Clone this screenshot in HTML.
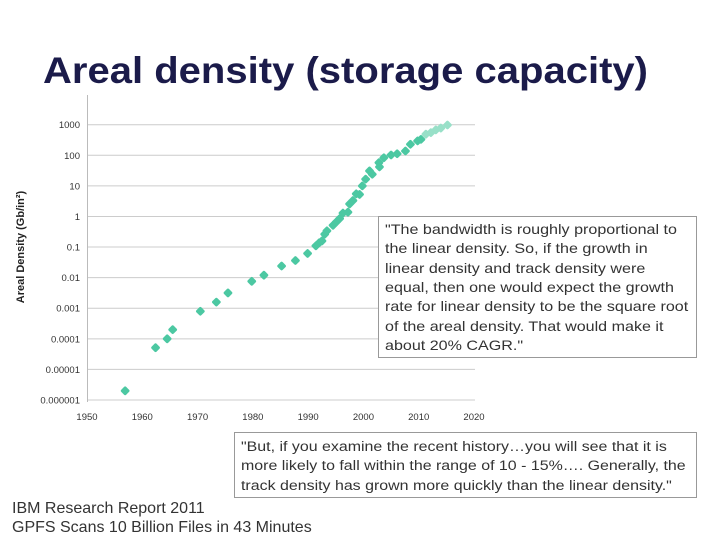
<!DOCTYPE html>
<html><head><meta charset="utf-8"><style>
html,body{margin:0;padding:0;background:#fff;}
svg{display:block;font-family:"Liberation Sans",Arial,sans-serif;}
</style></head><body>
<svg id="chart" width="720" height="540" viewBox="0 0 720 540">
<text x="43" y="83" font-size="37" font-weight="bold" fill="#1b1b4a" textLength="605" lengthAdjust="spacingAndGlyphs">Areal density (storage capacity)</text>
<g id="grid"></g>
<g id="axes"></g>
<g id="points"></g>
<text transform="translate(24,247) rotate(-90)" text-anchor="middle" font-size="11" font-weight="bold" fill="#222">Areal Density (Gb/in²)</text>
<g>
<rect x="378.5" y="216.5" width="318" height="141" fill="#fff" stroke="#999"/>
<text font-size="14" fill="#333" transform="translate(385,0) scale(1.15,1)">
<tspan x="0" y="234">"The bandwidth is roughly proportional to</tspan>
<tspan x="0" y="253">the linear density. So, if the growth in</tspan>
<tspan x="0" y="273">linear density and track density were</tspan>
<tspan x="0" y="292">equal, then one would expect the growth</tspan>
<tspan x="0" y="311">rate for linear density to be the square root</tspan>
<tspan x="0" y="331">of the areal density. That would make it</tspan>
<tspan x="0" y="350">about 20% CAGR."</tspan>
</text></g>
<g>
<rect x="234.5" y="432.5" width="462" height="65" fill="#fff" stroke="#999"/>
<text font-size="14" fill="#333" transform="translate(241,0) scale(1.14,1)">
<tspan x="0" y="451">"But, if you examine the recent history…you will see that it is</tspan>
<tspan x="0" y="470">more likely to fall within the range of 10 - 15%…. Generally, the</tspan>
<tspan x="0" y="490">track density has grown more quickly than the linear density."</tspan>
</text></g>
<text font-size="16" fill="#333">
<tspan x="12" y="513">IBM Research Report 2011</tspan>
<tspan x="12" y="532">GPFS Scans 10 Billion Files in 43 Minutes</tspan>
</text>
</svg>
<script>
const xTicks=[1950,1960,1970,1980,1990,2000,2010,2020];
const yTickLabels=["0.000001","0.00001","0.0001","0.001","0.01","0.1","1","10","100","1000"];
const years=[1956.9,1962.4,1964.5,1965.5,1970.5,1973.4,1975.5,1979.8,1982,1985.2,1987.7,1989.9,1991.4,1992,1992.5,1993,1993.4,1994.5,1995.1,1995.7,1996.3,1997.2,1997.5,1998.1,1998.7,1999.3,1999.8,2000.4,2001.1,2001.6,2002.8,2002.9,2003.7,2005,2006.1,2007.6,2008.5,2009.8,2010.4];
const logDensity=[-5.7,-4.29,-4.0,-3.7,-3.1,-2.8,-2.5,-2.12,-1.92,-1.62,-1.44,-1.21,-0.96,-0.86,-0.8,-0.58,-0.47,-0.29,-0.18,-0.07,0.11,0.14,0.41,0.52,0.74,0.72,1.0,1.22,1.49,1.38,1.76,1.62,1.92,2.01,2.05,2.14,2.36,2.47,2.52];
const projYears=[2011.3,2012.2,2013.1,2014,2015.2];
const projLog=[2.69,2.74,2.83,2.89,2.99];
const NS="http://www.w3.org/2000/svg";
const x=v=>87+(v-1950)*(474-87)/70;
const y=l=>400-(l+6)*(400-124.7)/9;
function mk(tag,attrs,parent){const e=document.createElementNS(NS,tag);for(const k in attrs)e.setAttribute(k,attrs[k]);parent.appendChild(e);return e;}
const grid=document.getElementById('grid'),axes=document.getElementById('axes'),pts=document.getElementById('points');
yTickLabels.forEach((t,i)=>{const yy=y(i-6);
 const l=mk('line',{x1:87,x2:475,y1:yy,y2:yy,stroke:'#ccc','stroke-width':1},grid);
 
 
 const tx=mk('text',{x:80,y:yy+3.5,'text-anchor':'end','font-size':9.5,fill:'#333'},axes);tx.textContent=t;
 
 
});
const ax=mk('line',{x1:87.5,x2:87.5,y1:95,y2:402,stroke:'#bbb'},axes);


xTicks.forEach(t=>{const tx=mk('text',{x:x(t),y:420,'text-anchor':'middle','font-size':9.5,fill:'#333'},axes);tx.textContent=t;
 
 
});
function dot(yr,lg,fill){const cx=x(yr),cy=y(lg);
 const p=mk('rect',{x:cx-3.5,y:cy-3.5,width:7,height:7,rx:1.5,fill:fill,transform:`rotate(45 ${cx} ${cy})`},pts);
 
 }
years.forEach((yr,i)=>dot(yr,logDensity[i],'#4cc8a2'));
projYears.forEach((yr,i)=>dot(yr,projLog[i],'#98e0c8'));
</script>
</body></html>
